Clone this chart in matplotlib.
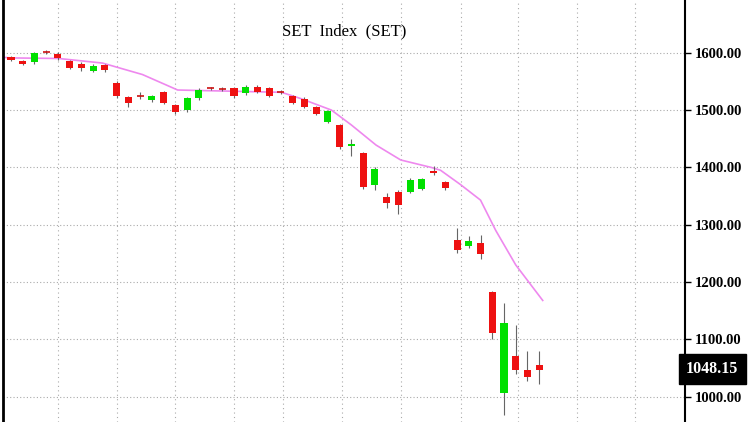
import matplotlib
matplotlib.use("Agg")
import matplotlib.pyplot as plt

opens  = [1593,1586,1583,1601,1598,1586,1581,1569,1579,1548,1522,1524,1517,1532,1509,1500,1521,1538,1537,1539,1530,1541,1539,1531,1524,1520,1506,1480,1474,1437,1425,1370,1349,1358,1358,1363,1393,1374,1274,1263,1269,1182,1007,1071,1047,1055]
closes = [1587,1581,1599,1601,1590,1574,1574,1577,1570,1524,1513,1524,1525,1513,1496,1521,1535,1538,1537,1524,1541,1532,1525,1531,1513,1506,1494,1498,1436,1441,1366,1398,1338,1335,1378,1380,1390,1364,1256,1272,1249,1112,1129,1046,1035,1047]
highs  = [1595,1588,1601,1605,1601,1588,1584,1580,1581,1551,1524,1531,1527,1534,1511,1523,1538,1541,1541,1541,1543,1543,1541,1535,1526,1522,1508,1500,1476,1450,1427,1401,1356,1361,1381,1382,1403,1376,1295,1280,1282,1185,1164,1125,1080,1079]
lows   = [1585,1579,1581,1598,1588,1571,1568,1566,1567,1521,1506,1519,1514,1510,1493,1497,1518,1535,1534,1521,1527,1529,1522,1528,1510,1503,1491,1477,1432,1420,1363,1360,1330,1318,1355,1360,1387,1361,1250,1259,1240,1100,968,1040,1028,1022]
ma_x = [-0.68,0,4.07,7.8,11.2,14.2,23.05,24.7,27.3,29,31.1,33.2,35.8,36.6,38.3,40,41.3,43,45.3]
ma_y = [1592,1591,1590,1582,1562,1535,1531,1520,1500,1474,1439,1413,1400,1395,1370,1343,1290,1230,1168]
last_label = "1048.15"
yticks = [1000,1100,1200,1300,1400,1500,1600]
gridx = [4,9,14,19,23.2,28.2,33.2,38.3,43.2,48.2,53.2]

fig = plt.figure(figsize=(7.5,4.22), dpi=100)
ax = fig.add_axes([0.004,0,0.909,1])
ax.set_xlim(-0.68,57.4)
ax.set_ylim(956,1692)
for g in gridx:
    ax.axvline(g,color='#aaa',lw=0.8,ls=(0,(1,3)),zorder=0)
for t in yticks:
    ax.axhline(t,color='#aaa',lw=0.8,ls=(0,(1,2)),zorder=0)
for i,(o,c,h,l) in enumerate(zip(opens,closes,highs,lows)):
    col = '#00e000' if c>o else '#ee1111'
    ax.vlines(i,l,h,color='#666',lw=0.8,zorder=2)
    if abs(c-o)<1.5:
        ax.hlines(o,i-0.3,i+0.3,color='#cc1111',lw=1.2,zorder=3)
    else:
        ax.bar(i,abs(c-o),bottom=min(o,c),width=0.6,color=col,zorder=3)
ax.plot(ma_x,ma_y,color='#ee88ee',lw=1.2,zorder=1)
ax.yaxis.tick_right()
ax.set_yticks(yticks)
ax.set_yticklabels([f"{t:.2f}" for t in yticks],fontfamily='Liberation Serif',fontweight='bold',fontsize=10.5)
ax.tick_params(axis='y',length=4,width=1,direction='out',pad=3)
ax.set_xticks([])
for s in ['top','bottom']:
    ax.spines[s].set_visible(False)
ax.spines['right'].set_linewidth(1.5)
ax.spines['left'].set_linewidth(2)
ax.text(0.5,0.915,"SET  Index  (SET)",transform=ax.transAxes,ha='center',fontfamily='Liberation Serif',fontsize=12)
ax.annotate(last_label,xy=(1,1048.15),xycoords=('axes fraction','data'),xytext=(1,0),textcoords='offset points',
            va='center',ha='left',color='white',fontfamily='Liberation Serif',fontweight='bold',fontsize=11.5,
            bbox=dict(boxstyle='square,pad=0.45',fc='black',ec='black'),annotation_clip=False)
fig.savefig("out.png",dpi=100)
